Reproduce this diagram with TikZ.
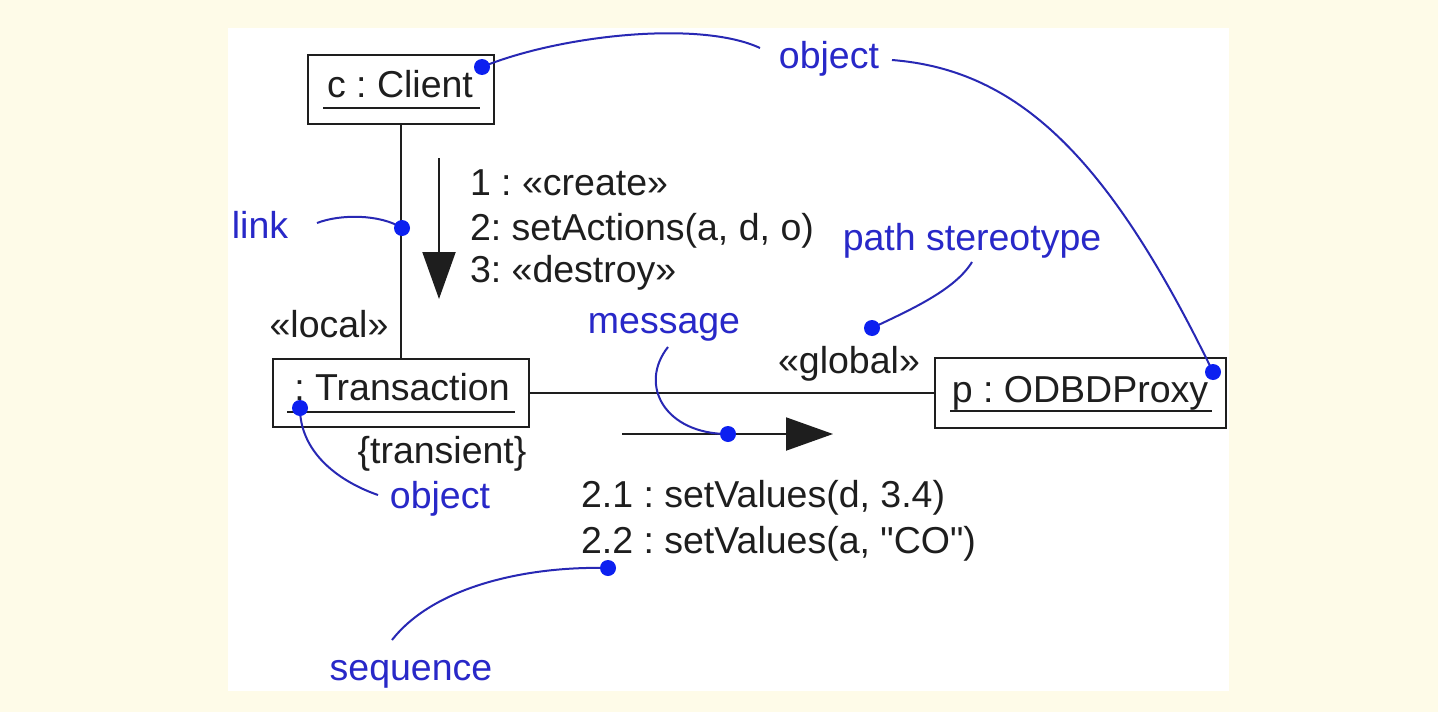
\documentclass[tikz,border=0pt]{standalone}
\usepackage{fontspec}
\setmainfont{Liberation Sans}[Ligatures=TeXOff]
\usetikzlibrary{arrows.meta}
\definecolor{bgyellow}{RGB}{254,251,232}
\definecolor{ublue}{RGB}{40,40,200}
\definecolor{dotblue}{RGB}{12,32,240}
\definecolor{lineblue}{RGB}{40,40,180}
\definecolor{ink}{RGB}{30,30,30}
\frenchspacing
\begin{document}
\begin{tikzpicture}[x=1pt,y=-1pt,
  every node/.style={inner sep=0pt, outer sep=0pt},
  txt/.style={font=\fontsize{37.5}{44}\selectfont, text=ink},
  btxt/.style={font=\fontsize{37.5}{44}\selectfont, text=ublue},
  objbox/.style={draw=ink, line width=2pt, fill=white},
  umlink/.style={draw=ink, line width=2pt},
  uline/.style={draw=ink, line width=1.8pt},
  note/.style={draw=lineblue, line width=2pt},
  dotfill/.style={fill=dotblue},
  msgarrow/.style={draw=ink, line width=2pt, -{Triangle[length=47pt,width=33pt]}}]

\fill[bgyellow] (0,0) rectangle (1438,712);
\fill[white] (228,28) rectangle (1229,691);
\useasboundingbox (0,0) rectangle (1438,712);

% object boxes
\node[objbox, minimum width=186pt, minimum height=69pt] (client) at (401,89.5) {};
\node[objbox, minimum width=256pt, minimum height=68pt] (trans) at (401,393) {};
\node[objbox, minimum width=291pt, minimum height=70pt] (proxy) at (1080.5,393) {};

% links
\draw[umlink] (client.south) -- (trans.north);
\draw[umlink] (trans.east) -- (proxy.west);

% box labels
\node[txt, anchor=base] (clientlbl) at (400,97) {c : Client};
\draw[uline] (323,108) -- (480,108);
\node[txt, anchor=base] (translbl) at (402,400) {: Transaction};
\draw[uline] (287,412) -- (515,412);
\node[txt, anchor=base] (proxylbl) at (1080,402) {p : ODBDProxy};
\draw[uline] (950,411) -- (1212,411);

% messages
\node[txt, anchor=base west] (m1) at (470,195) {1 : «create»};
\node[txt, anchor=base west] (m2) at (470,240) {2: setActions(a, d, o)};
\node[txt, anchor=base west] (m3) at (470,282) {3: «destroy»};
\node[txt, anchor=base] (local) at (329,337) {«local»};
\node[txt, anchor=base] (transient) at (442,463) {\{transient\}};
\node[txt, anchor=base] (global) at (849,373) {«global»};
\node[txt, anchor=base west] (s1) at (581,507) {2.1 : setValues(d, 3.4)};
\node[txt, anchor=base west] (s2) at (581,553) {2.2 : setValues(a, "CO")};

% message arrows
\coordinate (a1s) at (439,158);
\coordinate (a1e) at (439,299);
\draw[msgarrow] (a1s) -- (a1e);
\coordinate (a2s) at (622,434);
\coordinate (a2e) at (833,434);
\draw[msgarrow] (a2s) -- (a2e);

% blue annotations
\node[btxt, anchor=base] (objtop) at (829,68) {object};
\node[btxt, anchor=base] (linklbl) at (260,238) {link};
\node[btxt, anchor=base] (pathlbl) at (972,250) {path stereotype};
\node[btxt, anchor=base] (msglbl) at (664,333) {message};
\node[btxt, anchor=base] (objbot) at (440,508) {object};
\node[btxt, anchor=base] (seqlbl) at (411,680) {sequence};

\coordinate (d1) at (482,67);
\coordinate (d2) at (402,228);
\coordinate (d3) at (300,408);
\coordinate (d4) at (1213,372);
\coordinate (d5) at (872,328);
\coordinate (d6) at (728,434);
\coordinate (d7) at (608,568);

\coordinate (e1) at (760,48);
\coordinate (e4) at (892,60);
\coordinate (e2) at (317,223);
\coordinate (e5) at (972,262);
\coordinate (e6) at (668,347);
\coordinate (e3) at (378,495);
\coordinate (e7) at (392,640);

\draw[note] (d1) .. controls (560,35) and (700,20) .. (e1);
\draw[note] (e4) .. controls (1020,70) and (1110,160) .. (d4);
\draw[note] (e2) .. controls (340,214) and (380,214) .. (d2);
\draw[note] (e5) .. controls (955,290) and (910,310) .. (d5);
\draw[note] (e6) .. controls (638,385) and (665,434) .. (d6);
\draw[note] (d3) .. controls (300,450) and (335,480) .. (e3);
\draw[note] (d7) .. controls (530,566) and (435,585) .. (e7);

\foreach \d in {d1,d2,d3,d4,d5,d6,d7} \fill[dotfill] (\d) circle (8pt);
\end{tikzpicture}
\end{document}
